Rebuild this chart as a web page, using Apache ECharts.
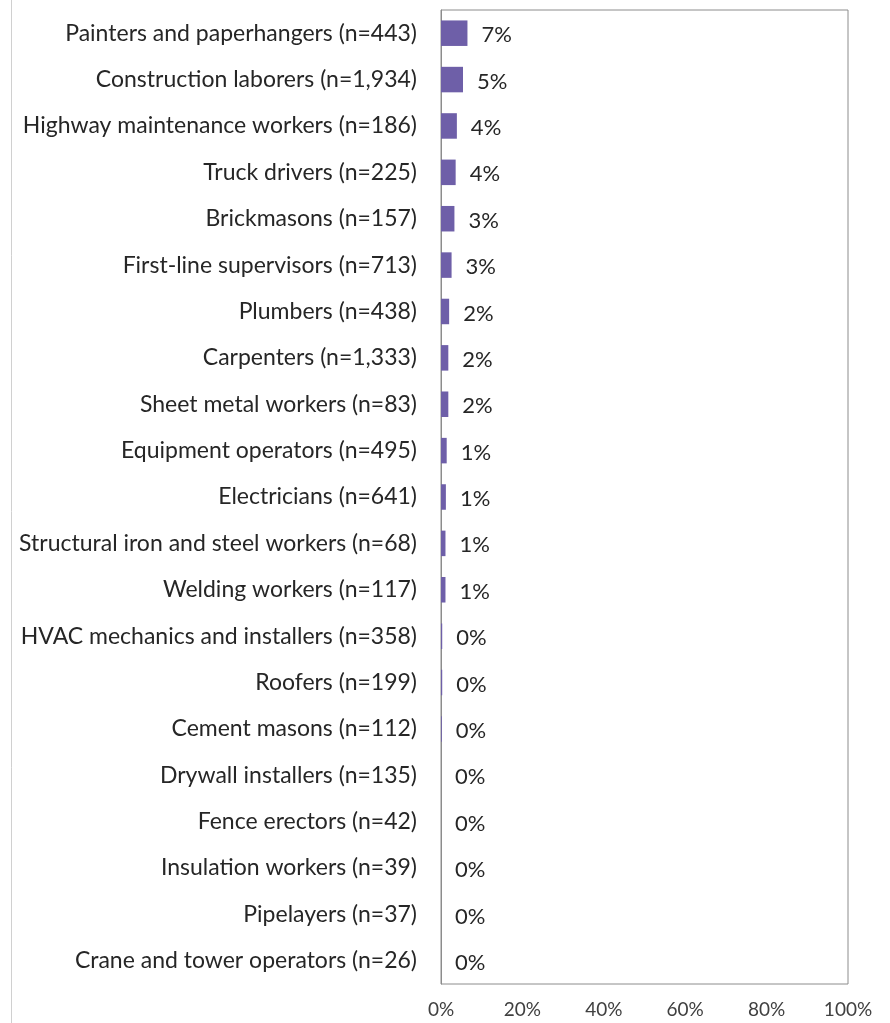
<!DOCTYPE html>
<html>
<head>
<meta charset="utf-8">
<script src="https://cdn.jsdelivr.net/npm/echarts@6/dist/echarts.min.js"></script>
<style>
html,body{margin:0;padding:0;background:#fff;}
#chart{width:890px;height:1023px;}
</style>
</head>
<body>
<div id="chart"></div>
<script>
const categories = [
  "Painters and paperhangers (n=443)",
  "Construction laborers (n=1,934)",
  "Highway maintenance workers (n=186)",
  "Truck drivers (n=225)",
  "Brickmasons (n=157)",
  "First-line supervisors (n=713)",
  "Plumbers (n=438)",
  "Carpenters (n=1,333)",
  "Sheet metal workers (n=83)",
  "Equipment operators (n=495)",
  "Electricians (n=641)",
  "Structural iron and steel workers (n=68)",
  "Welding workers (n=117)",
  "HVAC mechanics and installers (n=358)",
  "Roofers (n=199)",
  "Cement masons (n=112)",
  "Drywall installers (n=135)",
  "Fence erectors (n=42)",
  "Insulation workers (n=39)",
  "Pipelayers (n=37)",
  "Crane and tower operators (n=26)"
];
const values = [6.5, 5.4, 3.9, 3.6, 3.3, 2.6, 2.0, 1.8, 1.8, 1.4, 1.2, 1.1, 1.1, 0.3, 0.3, 0.2, 0, 0, 0, 0, 0];
const valueLabels = ["7%","5%","4%","4%","3%","3%","2%","2%","2%","1%","1%","1%","1%","0%","0%","0%","0%","0%","0%","0%","0%"];
const xTicks = [0, 20, 40, 60, 80, 100];

const chart = echarts.init(document.getElementById('chart'), null, {renderer: 'canvas'});
const FONT = 'Lato';
chart.setOption({
  animation: false,
  backgroundColor: '#fff',
  grid: {left: 441, right: 42, top: 10, bottom: 39, show: true, borderColor: '#8c8c8c', borderWidth: 1},
  xAxis: {
    type: 'value', min: 0, max: 100, interval: 20,
    axisLine: {show: false}, axisTick: {show: false}, splitLine: {show: false},
    axisLabel: {formatter: v => v + '%', fontFamily: FONT, fontSize: 19, color: '#404040', margin: 16}
  },
  yAxis: {
    type: 'category', data: categories, inverse: true,
    axisLine: {show: true, lineStyle: {color: '#8c8c8c'}}, axisTick: {show: false},
    axisLabel: {fontFamily: FONT, fontSize: 23, color: '#262626', margin: 24}
  },
  graphic: [{type: 'line', shape: {x1: 11.5, y1: 0, x2: 11.5, y2: 1023}, style: {stroke: '#d0d0d0', lineWidth: 1}}],
  series: [{
    type: 'bar', data: values, barWidth: '55%',
    itemStyle: {color: '#6e5fa8'},
    label: {
      show: true, position: 'right', distance: 14, offset: [0, 2],
      formatter: p => valueLabels[p.dataIndex],
      fontFamily: FONT, fontSize: 22, color: '#262626'
    }
  }]
});
</script>
</body>
</html>
